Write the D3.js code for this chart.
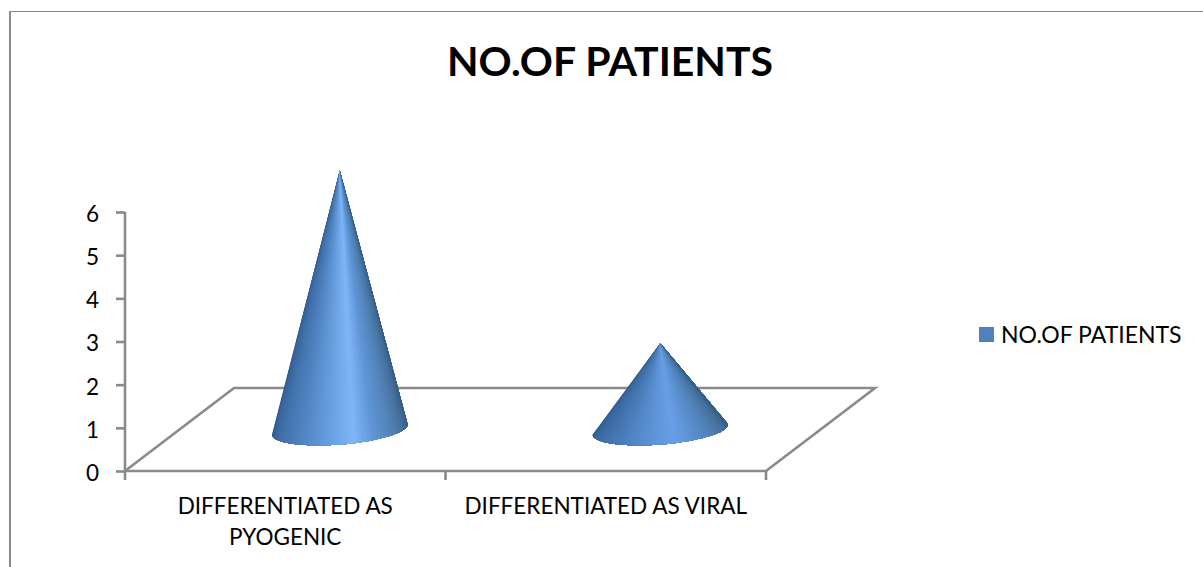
<!DOCTYPE html>
<html>
<head>
<meta charset="utf-8">
<script src="https://cdn.jsdelivr.net/npm/d3@7/dist/d3.min.js"></script>
<style>
  html, body { margin: 0; padding: 0; background: #fff; }
  svg { display: block; }
  text { font-family: Lato, "Open Sans", sans-serif; fill: #000; }
</style>
</head>
<body>
<svg id="chart" width="1203" height="567"></svg>
<script>
// Data
const categories = ["PYOGENIC", "VIRAL"];
const categoryLines = [["DIFFERENTIATED AS", "PYOGENIC"], ["DIFFERENTIATED AS VIRAL"]];
const patients = [6, 2];
const yTicks = [0, 1, 2, 3, 4, 5, 6];
const seriesName = "NO.OF PATIENTS";
const chartTitle = "NO.OF PATIENTS";

// Layout of the pseudo-3D plot
const plot = { left: 125, right: 766, top: 212, bottom: 471 };
const depth = { dx: 109, dy: -83 };
const axisColor = "#8a8a8a";
const axisWidth = 2.6;
const legendColor = "#4f81bd";
const labelSize = 22.5;

const svg = d3.select("#chart");

// Chart frame: only the top and left edges fall inside the canvas
svg.append("line").attr("x1", 10).attr("x2", 10).attr("y1", 11).attr("y2", 567)
  .attr("stroke", "#8c8c8c").attr("stroke-width", 2);
svg.append("line").attr("x1", 9).attr("x2", 1203).attr("y1", 11.5).attr("y2", 11.5)
  .attr("stroke", "#8c8c8c").attr("stroke-width", 1.2);

svg.append("text")
  .attr("x", 610).attr("y", 76)
  .attr("text-anchor", "middle")
  .attr("font-size", 41).attr("font-weight", 700)
  .text(chartTitle);

const x = d3.scaleBand().domain(categories).range([plot.left, plot.right]);
const y = d3.scaleLinear().domain([0, 6]).range([plot.bottom, plot.top]);

// Floor parallelogram
const floor = d3.path();
floor.moveTo(plot.left, plot.bottom);
floor.lineTo(plot.left + depth.dx, plot.bottom + depth.dy);
floor.lineTo(plot.right + depth.dx, plot.bottom + depth.dy);
floor.lineTo(plot.right, plot.bottom);
svg.append("path")
  .attr("d", floor.toString())
  .attr("fill", "none").attr("stroke", axisColor).attr("stroke-width", axisWidth);

// Value axis
const yAxis = svg.append("g")
  .attr("transform", `translate(${plot.left},0)`)
  .call(d3.axisLeft(y).tickValues(yTicks).tickSize(9).tickPadding(17).tickFormat(d3.format("d")));
yAxis.selectAll("path, line").attr("stroke", axisColor).attr("stroke-width", axisWidth);
yAxis.select(".domain").attr("d", `M0,${plot.top}V${plot.bottom}`);
yAxis.selectAll("text")
  .attr("font-size", labelSize).attr("font-family", "Lato").attr("fill", "#000")
  .attr("dy", "0.42em");

// Category axis
const xAxis = svg.append("g")
  .attr("transform", `translate(0,${plot.bottom})`)
  .call(d3.axisBottom(x).tickValues([]).tickSize(0));
xAxis.select(".domain").attr("d", `M${plot.left},0H${plot.right}`)
  .attr("stroke", axisColor).attr("stroke-width", axisWidth);
xAxis.selectAll("line.edge")
  .data([plot.left, plot.left + x.step(), plot.right])
  .join("line").attr("class", "edge")
  .attr("x1", d => d).attr("x2", d => d).attr("y1", 0).attr("y2", 9)
  .attr("stroke", axisColor).attr("stroke-width", axisWidth);

categories.forEach((c, i) => {
  const label = svg.append("text")
    .attr("text-anchor", "middle").attr("font-size", labelSize);
  label.selectAll("tspan")
    .data(categoryLines[i])
    .join("tspan")
    .attr("x", x(c) + x.bandwidth() / 2)
    .attr("y", (d, j) => 514 + j * 31)
    .text(d => d);
});

// Cone shading: lit around the middle, falling off toward both silhouettes
const shadeStops = [0, 0.1, 0.3, 0.48, 0.56, 0.66, 0.85, 1];
const shadeTall = d3.scaleLinear().domain(shadeStops)
  .range(["#2f5a8a", "#3a689f", "#4f83c0", "#6ea6e8", "#7fb6f8", "#5f95d6", "#47749f", "#33577f"]);
const shadeShort = d3.scaleLinear().domain(shadeStops)
  .range(["#2f5a8a", "#3a689f", "#4a7dba", "#5f97da", "#699fe6", "#5a90d0", "#47749f", "#33577f"]);

const rx = 68, ry = 15, tilt = -4.5 * Math.PI / 180, slices = 70;

function drawCone(cat, value, shade) {
  const cx = x(cat) + x.bandwidth() / 2 + depth.dx / 2;
  const cy = plot.bottom + depth.dy / 2;
  const apex = [cx, y(value) + depth.dy / 2];
  const rim = d3.range(slices + 1).map(k => {
    const a = Math.PI * (1 - k / slices);
    const ex = rx * Math.cos(a), ey = ry * Math.sin(a);
    return [cx + ex * Math.cos(tilt) - ey * Math.sin(tilt),
            cy + ex * Math.sin(tilt) + ey * Math.cos(tilt)];
  });
  // Each wedge also covers everything to its right, so later wedges paint
  // over it and no seams show between neighbours
  svg.append("g").selectAll("path")
    .data(d3.range(slices))
    .join("path")
    .attr("d", k => d3.line()([apex, ...rim.slice(k)]) + "Z")
    .attr("fill", k => shade((k + 0.5) / slices));
}
categories.forEach((c, i) => drawCone(c, patients[i], patients[i] > 3 ? shadeTall : shadeShort));

// Legend
svg.append("rect")
  .attr("x", 979).attr("y", 327).attr("width", 15).attr("height", 15)
  .attr("fill", legendColor);
svg.append("text")
  .attr("x", 1001).attr("y", 343)
  .attr("font-size", 23)
  .text(seriesName);
</script>
</body>
</html>
